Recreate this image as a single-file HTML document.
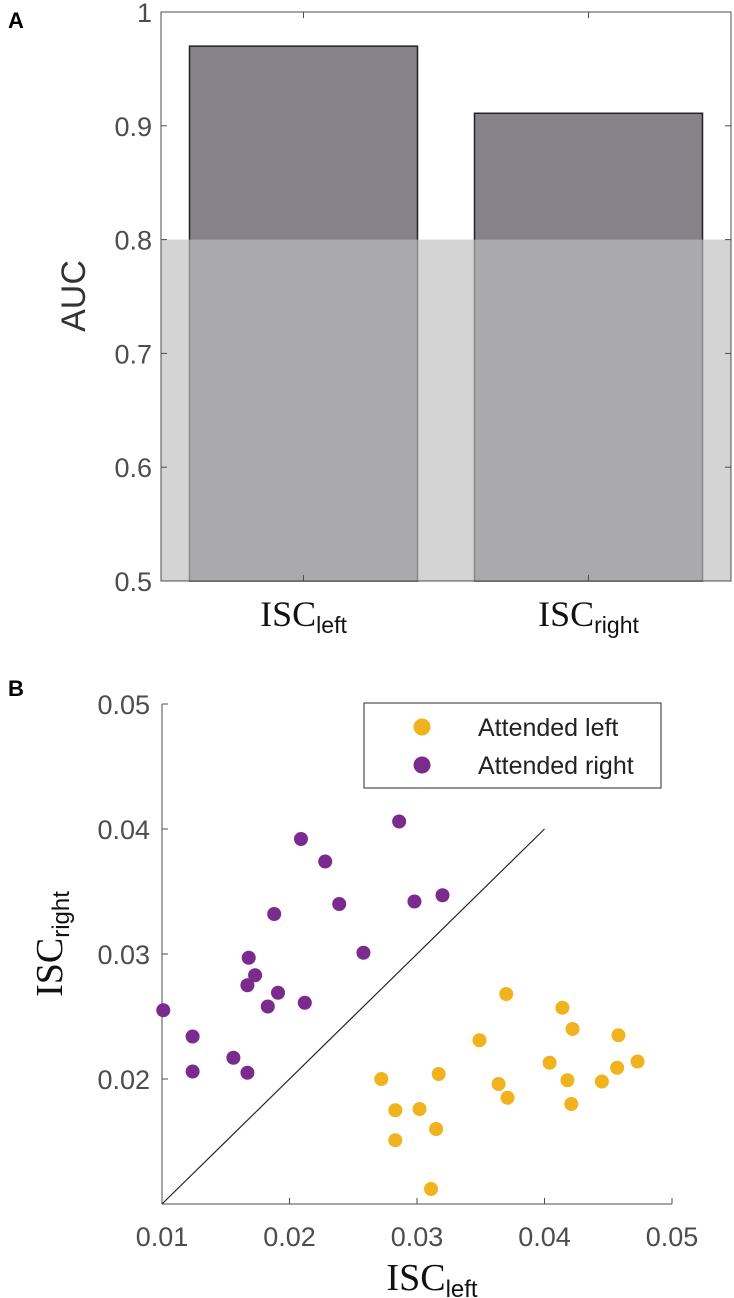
<!DOCTYPE html>
<html><head><meta charset="utf-8"><style>
body{margin:0;background:#fff;}
svg{display:block;}
text{font-family:"Liberation Sans",sans-serif;}
</style></head><body>
<svg id="fig" width="734" height="1298" viewBox="0 0 734 1298" xmlns="http://www.w3.org/2000/svg">
<text x="8" y="28" font-size="22" font-weight="bold" fill="#000">A</text>
<text x="8" y="696" font-size="22" font-weight="bold" fill="#000">B</text>
<g id="pa"></g>
<g id="pb"></g>
</svg>
<script>
// Panel A data
const barCategories = ['left', 'right'];
const barValues = [0.97, 0.911];
const chanceLevel = 0.8;
const aTicks = [0.5, 0.6, 0.7, 0.8, 0.9, 1];
const aTickLabels = ['0.5', '0.6', '0.7', '0.8', '0.9', '1'];
// Panel B data
const leftX = [0.0272,0.0283,0.0283,0.0302,0.0315,0.0317,0.0311,0.0349,0.0364,0.0370,0.0371,0.0404,0.0414,0.0422,0.0418,0.0421,0.0445,0.0458,0.0457,0.0473];
const leftY = [0.0200,0.0175,0.0151,0.0176,0.0160,0.0204,0.0112,0.0231,0.0196,0.0268,0.0185,0.0213,0.0257,0.0240,0.0199,0.0180,0.0198,0.0235,0.0209,0.0214];
const rightX = [0.0101,0.0124,0.0124,0.0156,0.0167,0.0167,0.0168,0.0173,0.0183,0.0191,0.0188,0.0212,0.0209,0.0228,0.0239,0.0258,0.0286,0.0298,0.0320];
const rightY = [0.0255,0.0234,0.0206,0.0217,0.0205,0.0275,0.0297,0.0283,0.0258,0.0269,0.0332,0.0261,0.0392,0.0374,0.0340,0.0301,0.0406,0.0342,0.0347];
const bTicks = [0.01, 0.02, 0.03, 0.04, 0.05];
const bTickLabels = ['0.01', '0.02', '0.03', '0.04', '0.05'];

const NS = 'http://www.w3.org/2000/svg';
function mk(parent, tag, attrs, txt) {
  const e = document.createElementNS(NS, tag);
  for (const k in attrs) e.setAttribute(k, attrs[k]);
  if (txt !== undefined) e.textContent = txt;
  parent.appendChild(e);
  return e;
}
// ---------- Panel A ----------
const pa = document.getElementById('pa');
const aL = 161, aR = 731, aT = 12, aB = 581;
const ay = v => aB - (v - 0.5) / 0.5 * (aB - aT);
const ax = c => aL + (c - 0.5) / 2 * (aR - aL);
barValues.forEach((v, i) => {
  const x0 = ax(i + 1 - 0.4), x1 = ax(i + 1 + 0.4);
  const r = mk(pa, 'rect', {x: x0, y: ay(v), width: x1 - x0, height: ay(0.5) - ay(v), fill: '#858289', stroke: '#222', 'stroke-width': 1.5});
  
  
});
const band = mk(pa, 'rect', {x: aL, y: ay(chanceLevel), width: aR - aL, height: ay(0.5) - ay(chanceLevel), fill: 'rgb(190,190,190)', 'fill-opacity': 0.66});


const boxA = mk(pa, 'rect', {x: aL, y: aT, width: aR - aL, height: aB - aT, fill: 'none', stroke: '#4d4d4d', 'stroke-width': 1});


aTicks.forEach((t, i) => {
  const y = ay(t);
  mk(pa, 'line', {x1: aL, x2: aL + 6, y1: y, y2: y, stroke: '#4d4d4d'});
  mk(pa, 'line', {x1: aR, x2: aR - 6, y1: y, y2: y, stroke: '#4d4d4d'});
  const tx = mk(pa, 'text', {x: aL - 9, y: y + 10, 'font-size': 27, fill: '#4d4d4d', 'text-anchor': 'end'}, aTickLabels[i]);
  
  
});
barCategories.forEach((c, i) => {
  const x = ax(i + 1);
  mk(pa, 'line', {x1: x, x2: x, y1: aB, y2: aB - 6, stroke: '#4d4d4d'});
  mk(pa, 'line', {x1: x, x2: x, y1: aT, y2: aT + 6, stroke: '#4d4d4d'});
  const t = mk(pa, 'text', {x: x, y: 626, 'text-anchor': 'middle', fill: '#111'});
  
  
  mk(t, 'tspan', {'font-family': '"Liberation Serif",serif', 'font-size': 36}, 'ISC');
  mk(t, 'tspan', {'font-size': 23, dy: 7}, c);
});
const auc = mk(pa, 'text', {x: 0, y: 0, 'font-size': 34, fill: '#333', 'text-anchor': 'middle', transform: 'translate(85,296) rotate(-90)'}, 'AUC');



// ---------- Panel B ----------
const pb = document.getElementById('pb');
const bL = 162, bR = 672, bT = 704, bB = 1204;
const bx = v => bL + (v - 0.01) / 0.04 * (bR - bL);
const by = v => bB - (v - 0.01) / 0.04 * (bB - bT);
mk(pb, 'line', {x1: bL, x2: bR, y1: bB, y2: bB, stroke: '#4d4d4d'});
mk(pb, 'line', {x1: bL, x2: bL, y1: bT, y2: bB, stroke: '#4d4d4d'});
bTicks.forEach((t, i) => {
  mk(pb, 'line', {x1: bx(t), x2: bx(t), y1: bB, y2: bB - 6, stroke: '#4d4d4d'});
  mk(pb, 'line', {x1: bL, x2: bL + 6, y1: by(t), y2: by(t), stroke: '#4d4d4d'});
  const xt = mk(pb, 'text', {x: bx(t), y: 1246, 'font-size': 27, fill: '#4d4d4d', 'text-anchor': 'middle'}, bTickLabels[i]);
  
  
  if (i > 0) {
    const yt = mk(pb, 'text', {x: bL - 12, y: by(t) + 10, 'font-size': 27, fill: '#4d4d4d', 'text-anchor': 'end'}, bTickLabels[i]);
    
    
  }
});
const diag = mk(pb, 'line', {x1: bx(0.01), y1: by(0.01), x2: bx(0.04), y2: by(0.04), stroke: '#222', 'stroke-width': 1.2});


rightX.forEach((v, i) => {
  const c = mk(pb, 'circle', {cx: bx(v), cy: by(rightY[i]), r: 7, fill: '#7b2a8e'});
  
  
});
leftX.forEach((v, i) => {
  const c = mk(pb, 'circle', {cx: bx(v), cy: by(leftY[i]), r: 7, fill: '#f0b31d'});
  
  
});
const lg = mk(pb, 'g', {});


mk(lg, 'rect', {x: 364, y: 703, width: 297, height: 85, fill: '#fff', stroke: '#4d4d4d', 'stroke-width': 1.2});
const e1 = mk(lg, 'g', {});


mk(e1, 'circle', {cx: 422, cy: 727, r: 8.5, fill: '#f0b31d'});
mk(e1, 'text', {x: 478, y: 736, 'font-size': 25, fill: '#222'}, 'Attended left');
const e2 = mk(lg, 'g', {});


mk(e2, 'circle', {cx: 422, cy: 765, r: 8.5, fill: '#7b2a8e'});
mk(e2, 'text', {x: 478, y: 774, 'font-size': 25, fill: '#222'}, 'Attended right');
const xl = mk(pb, 'text', {x: 432, y: 1290, 'text-anchor': 'middle', fill: '#111'});


mk(xl, 'tspan', {'font-family': '"Liberation Serif",serif', 'font-size': 38}, 'ISC');
mk(xl, 'tspan', {'font-size': 24, dy: 7}, 'left');
const yl = mk(pb, 'text', {x: 0, y: 0, 'text-anchor': 'middle', fill: '#111', transform: 'translate(62,944) rotate(-90)'});


mk(yl, 'tspan', {'font-family': '"Liberation Serif",serif', 'font-size': 38}, 'ISC');
mk(yl, 'tspan', {'font-size': 24, dy: 7}, 'right');
</script>
</body></html>
